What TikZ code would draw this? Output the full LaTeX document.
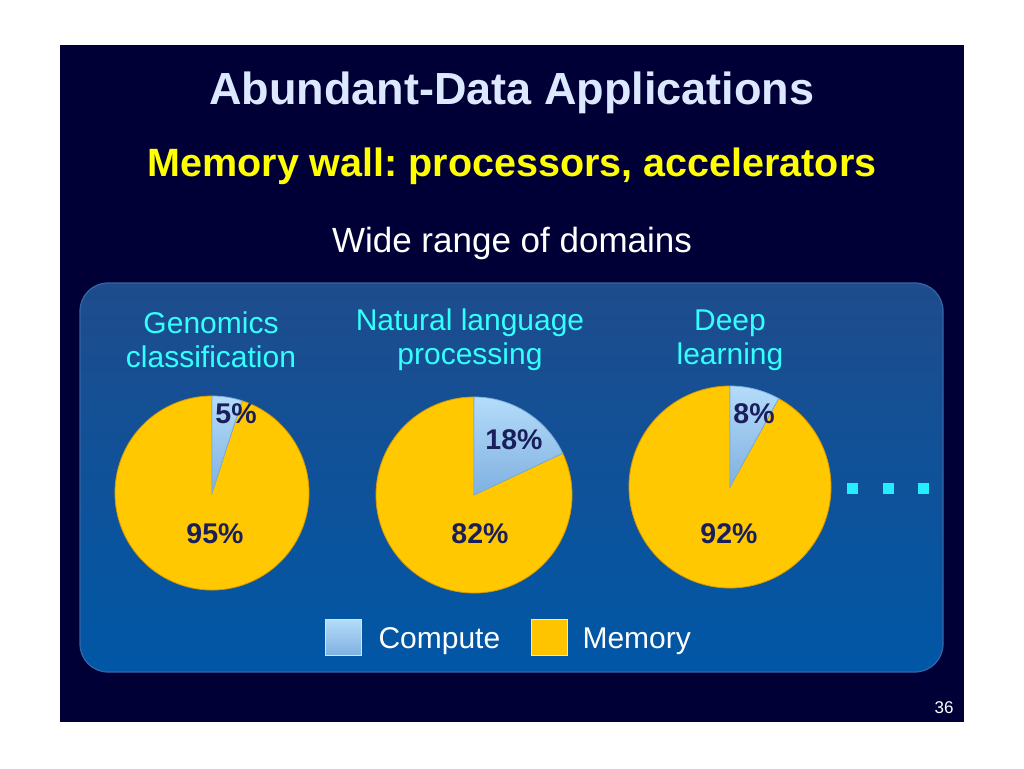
\documentclass[tikz,border=0pt]{standalone}
\usepackage{fontspec}
\setmainfont{Liberation Sans}
\usetikzlibrary{shadings}
\frenchspacing
\definecolor{slidebg}{HTML}{000036}
\definecolor{paneltop}{HTML}{1E4C8C}
\definecolor{panelbot}{HTML}{0057A6}
\definecolor{panelrim}{HTML}{3566A6}
\definecolor{titlec}{HTML}{DCE8FF}
\definecolor{subc}{HTML}{FFFF00}
\definecolor{headc}{HTML}{33FFFF}
\definecolor{memc}{HTML}{FFC800}
\definecolor{memedge}{HTML}{D99A00}
\definecolor{compc}{HTML}{B4DCFA}
\definecolor{compdark}{HTML}{7FB0E0}
\definecolor{pctc}{HTML}{1A1F5C}
\definecolor{dotc}{HTML}{22EEFF}
\tikzset{
  x=1pt, y=-1pt,
  title/.style={font=\fontsize{45}{50}\selectfont\bfseries, text=titlec},
  subtitle/.style={font=\fontsize{39.5}{44}\selectfont\bfseries, text=subc},
  plain/.style={font=\fontsize{35}{40}\selectfont, text=white},
  head/.style={font=\fontsize{30}{34}\selectfont, text=headc, align=center},
  pct/.style={font=\fontsize{28.5}{32}\selectfont\bfseries, text=pctc},
  memslice/.style={fill=memc, draw=memedge, line width=0.8pt},
  compslice/.style={top color=compc, bottom color=compdark, draw=compdark, line width=0.8pt},
  legtext/.style={font=\fontsize{30}{34}\selectfont, text=white, anchor=west},
  dotsq/.style={fill=dotc, minimum size=11pt, inner sep=0pt},
}
\begin{document}
\begin{tikzpicture}
\useasboundingbox (0,0) rectangle (1024,768);
\fill[white] (0,0) rectangle (1024,768);
\fill[slidebg] (60,45) rectangle (964,722);
% panel
\shade[top color=paneltop, bottom color=panelbot, rounded corners=28pt] (80,283) rectangle (943,672);
\draw[panelrim, line width=1.2pt, rounded corners=28pt] (80,283) rectangle (943,672);
% titles
\node[title] (t) at (512,93) {Abundant-Data Applications};
\node[subtitle] (s) at (512,166) {Memory wall: processors, accelerators};
\node[plain] (w) at (512,243) {Wide range of domains};
% headings
\node[head] (h1) at (211,340) {Genomics\\classification};
\node[head] (h2) at (470,340) {Natural language\\processing};
\node[head] (h3) at (730,340) {Deep\\learning};
% pie 1
\coordinate (p1) at (212,493);
\fill[memslice] (p1) -- ++(-72:97) arc[start angle=-72, end angle=270, radius=97] -- cycle;
\fill[compslice] (p1) -- ++(-90:97) arc[start angle=-90, end angle=-72, radius=97] -- cycle;
\node[pct] (c1) at (236,414) {5\%};
\node[pct] (m1) at (215,534) {95\%};
% pie 2
\coordinate (p2) at (474,495);
\fill[memslice] (p2) -- ++(-25.2:98) arc[start angle=-25.2, end angle=270, radius=98] -- cycle;
\fill[compslice] (p2) -- ++(-90:98) arc[start angle=-90, end angle=-25.2, radius=98] -- cycle;
\node[pct] (c2) at (514,440) {18\%};
\node[pct] (m2) at (480,534) {82\%};
% pie 3
\coordinate (p3) at (730,487);
\fill[memslice] (p3) -- ++(-61.2:101) arc[start angle=-61.2, end angle=270, radius=101] -- cycle;
\fill[compslice] (p3) -- ++(-90:101) arc[start angle=-90, end angle=-61.2, radius=101] -- cycle;
\node[pct] (c3) at (754,414) {8\%};
\node[pct] (m3) at (729,534) {92\%};
% dots
\node[dotsq] (d1) at (852,488) {};
\node[dotsq] (d2) at (888,488) {};
\node[dotsq] (d3) at (923,488) {};
% legend
\node[minimum size=36pt, inner sep=0pt, top color=compc, bottom color=compdark, draw=compc!70!white, line width=0.6pt] (lc) at (343.5,637.5) {};
\node[legtext] (lct) at (375,641) {Compute};
\node[minimum size=36pt, inner sep=0pt, fill=memc!95!orange, draw=memc!40!white, line width=0.6pt] (lm) at (549.5,637.5) {};
\node[legtext] (lmt) at (579,641) {Memory};
% page number
\node[font=\fontsize{17}{19}\selectfont, text=white] (pg) at (944,708) {36};
\end{tikzpicture}
\end{document}
